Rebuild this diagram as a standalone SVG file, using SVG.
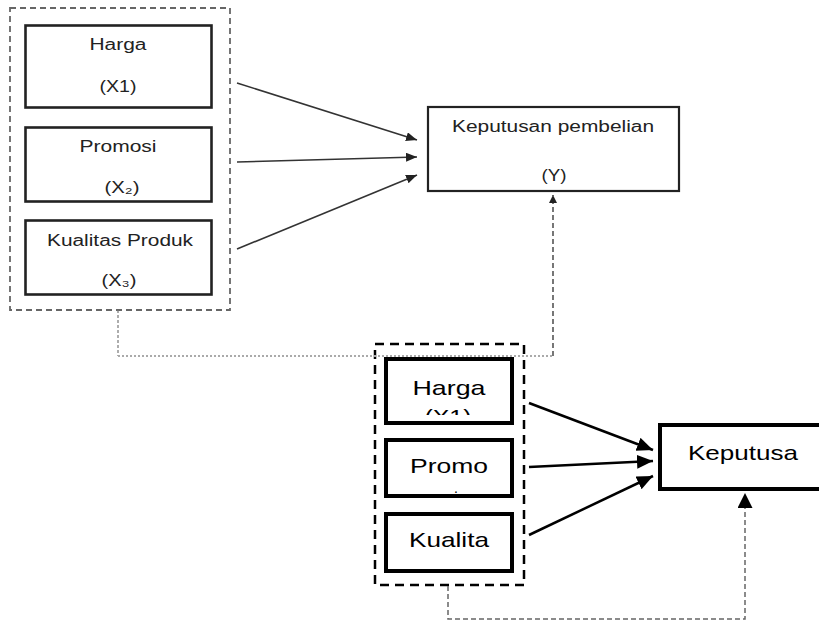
<svg xmlns="http://www.w3.org/2000/svg" width="819" height="621" viewBox="0 0 819 621">
<style>
text{font-family:"Liberation Sans",Arial,sans-serif;text-anchor:middle}
.t1{font-size:16px;fill:#222}
.t2{font-size:21px;fill:#000}
.b1{fill:#fff;stroke:#222;stroke-width:2.6}
.b2{fill:#fff;stroke:#000;stroke-width:4}
.grp1{fill:none;stroke:#666;stroke-width:1.8;stroke-dasharray:6 4}
.grp2{fill:none;stroke:#000;stroke-width:2.5;stroke-dasharray:9 6}
.a1{stroke:#333;stroke-width:1.6;fill:none}
.a2{stroke:#000;stroke-width:2.5;fill:none}
</style>
<defs>
<marker id="hs" markerUnits="userSpaceOnUse" markerWidth="12" markerHeight="10" refX="11" refY="4.5" orient="auto"><path d="M0,0 L11,4.5 L0,9 z" fill="#222"/></marker>
<marker id="hl" markerUnits="userSpaceOnUse" markerWidth="17" markerHeight="15" refX="16" refY="7" orient="auto"><path d="M0,0 L16,7 L0,14 z" fill="#000"/></marker>
<marker id="hd1" markerUnits="userSpaceOnUse" markerWidth="9" markerHeight="9" refX="8" refY="4" orient="auto"><path d="M0,0 L8,4 L0,8 z" fill="#222"/></marker>
<marker id="hd2" markerUnits="userSpaceOnUse" markerWidth="16" markerHeight="16" refX="15" refY="7.5" orient="auto"><path d="M0,0 L15,7.5 L0,15 z" fill="#000"/></marker>
<clipPath id="c1"><rect x="388" y="360" width="122" height="55"/></clipPath>
</defs>
<rect width="819" height="621" fill="#fff"/>

<g id="group-top">
<rect class="grp1" x="10" y="8" width="220" height="302"/>
</g>
<g id="harga-top">
<rect class="b1" x="25.5" y="25.5" width="186" height="82"/>
<text class="t1" x="118" y="50" textLength="57" lengthAdjust="spacingAndGlyphs">Harga</text>
<text class="t1" x="118" y="92" textLength="37" lengthAdjust="spacingAndGlyphs">(X1)</text>
</g>
<g id="promosi-top">
<rect class="b1" x="25.5" y="127.5" width="186" height="74"/>
<text class="t1" x="118" y="152" textLength="77" lengthAdjust="spacingAndGlyphs">Promosi</text>
<text class="t1" x="122" y="193" textLength="35" lengthAdjust="spacingAndGlyphs">(X₂)</text>
</g>
<g id="kualitas-top">
<rect class="b1" x="25.5" y="220.5" width="186" height="74"/>
<text class="t1" x="120" y="246" textLength="146" lengthAdjust="spacingAndGlyphs">Kualitas Produk</text>
<text class="t1" x="119" y="286" textLength="35" lengthAdjust="spacingAndGlyphs">(X₃)</text>
</g>
<g id="keputusan-top">
<rect class="b1" x="428" y="107" width="251" height="84" style="stroke-width:2.2"/>
<text class="t1" x="553" y="132" textLength="202" lengthAdjust="spacingAndGlyphs">Keputusan pembelian</text>
<text class="t1" x="554" y="181" textLength="25" lengthAdjust="spacingAndGlyphs">(Y)</text>
</g>

<g id="group-bottom">
<rect class="grp2" x="375" y="344" width="149" height="241"/>
</g>
<g id="harga-bottom">
<rect class="b2" x="386" y="359" width="126" height="64"/>
<text class="t2" x="449" y="395" textLength="73" lengthAdjust="spacingAndGlyphs">Harga</text>
<text class="t2" x="448" y="424" textLength="47" lengthAdjust="spacingAndGlyphs" clip-path="url(#c1)">(X1)</text>
</g>
<g id="promo-bottom">
<rect class="b2" x="386" y="440" width="126" height="56"/>
<text class="t2" x="449" y="473" textLength="78" lengthAdjust="spacingAndGlyphs">Promo</text>
<text x="456" y="493" style="font-size:14px;fill:#000">.</text>
</g>
<g id="kualita-bottom">
<rect class="b2" x="386" y="514" width="126" height="57"/>
<text class="t2" x="449" y="547" textLength="80" lengthAdjust="spacingAndGlyphs">Kualita</text>
</g>
<g id="keputusa-bottom">
<rect class="b2" x="660" y="425" width="200" height="64"/>
<text class="t2" x="743" y="460" textLength="110" lengthAdjust="spacingAndGlyphs">Keputusa</text>
</g>

<g id="connectors">
<line class="a1" x1="237" y1="83" x2="417" y2="140" marker-end="url(#hs)"/>
<line class="a1" x1="237" y1="162" x2="417" y2="157" marker-end="url(#hs)"/>
<line class="a1" x1="237" y1="249" x2="417" y2="175" marker-end="url(#hs)"/>
<path d="M118,310 V356" fill="none" stroke="#777" stroke-width="1.2" stroke-dasharray="3 2"/>
<path d="M118,356 H553" fill="none" stroke="#aaa" stroke-width="1.8" stroke-dasharray="2 2"/>
<path d="M553,356 V195" fill="none" stroke="#555" stroke-width="1.6" stroke-dasharray="5 3" marker-end="url(#hd1)"/>
<line class="a2" x1="529" y1="403" x2="653" y2="450" marker-end="url(#hl)"/>
<line class="a2" x1="529" y1="467" x2="653" y2="461" marker-end="url(#hl)"/>
<line class="a2" x1="529" y1="535" x2="653" y2="476" marker-end="url(#hl)"/>
<path d="M448,586 V619 H745 V493" fill="none" stroke="#666" stroke-width="1.5" stroke-dasharray="5 3" marker-end="url(#hd2)"/>
</g>
</svg>
